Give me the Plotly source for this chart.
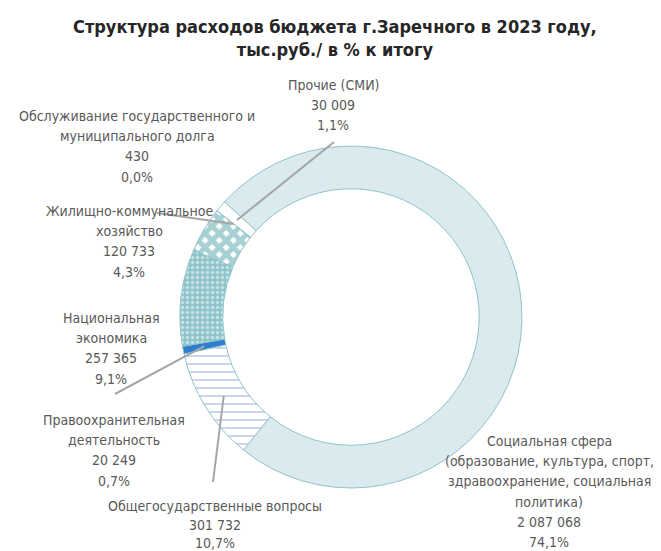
import math
import plotly.graph_objects as go

W, H = 661, 551

names = [
    "Социальная сфера<br>(образование, культура, спорт,<br>здравоохранение, социальная<br>политика)",
    "Общегосударственные вопросы",
    "Правоохранительная<br>деятельность",
    "Национальная<br>экономика",
    "Жилищно-коммунальное<br>хозяйство",
    "Обслуживание государственного и<br>муниципального долга",
    "Прочие (СМИ)",
]
values = [2087068, 301732, 20249, 257365, 120733, 430, 30009]

fills = ["#DAEAEE", "#FFFFFF", "#2E7DD1", "#8EC4CA", "#FFFFFF", "#FFFFFF", "#FFFFFF"]
pat_shapes = ["", "-", "", ".", "x", "", ""]
pat_fg = ["#DAEAEE", "#7F93D4", "#2E7DD1", "#FFFFFF", "#4FA2A8", "#FFFFFF", "#FFFFFF"]
pat_size = [8, 8, 8, 5, 10, 8, 8]
pat_sol = [0.2, 0.2, 0.2, 0.35, 0.75, 0.2, 0.2]

# pie geometry (pixels)
cx, cy, R = 351, 317, 171
hole = 0.75
rotation = 312.3

total = sum(values)

def fmt_num(v):
    return f"{v:,}".replace(",", " ")

def fmt_pct(v):
    return f"{v / total * 100:.1f}%".replace(".", ",")

font_family = "DejaVu Sans Condensed, Liberation Sans Narrow, Arial Narrow, sans-serif"

fig = go.Figure(go.Pie(
    values=values,
    labels=[n.replace("<br>", " ") for n in names],
    sort=False,
    direction="clockwise",
    rotation=rotation,
    hole=hole,
    textinfo="none",
    marker=dict(
        colors=fills,
        line=dict(color="#8FC3C9", width=1),
        pattern=dict(shape=pat_shapes, fgcolor=pat_fg, size=pat_size,
                     solidity=pat_sol, fillmode="overlay"),
    ),
    domain=dict(x=[(cx - R) / W, (cx + R) / W], y=[1 - (cy + R) / H, 1 - (cy - R) / H]),
    showlegend=False,
    hoverinfo="label+value+percent",
))

# label block positions: (center x px, first line center y px, line step px)
label_pos = [
    (549, 441, 20.2),
    (215, 506, 18.5),
    (114, 420, 20.2),
    (111, 318, 20.2),
    (129, 211, 20.2),
    (137, 116, 20.2),
    (333, 85, 20.2),
]

annotations = []
for name, v, (lx, ly, step) in zip(names, values, label_pos):
    lines = name.split("<br>") + [fmt_num(v), fmt_pct(v)]
    for j, line in enumerate(lines):
        annotations.append(dict(
            text=line,
            x=lx / W, y=1 - (ly + j * step) / H, xref="paper", yref="paper",
            xanchor="center", yanchor="middle", showarrow=False, align="center",
            font=dict(family=font_family, size=14, color="#595959"),
        ))

annotations.append(dict(
    text="<b>Структура расходов бюджета г.Заречного в 2023 году,<br>тыс.руб./ в % к итогу</b>",
    x=335 / W, y=1 - 14 / H, xref="paper", yref="paper",
    xanchor="center", yanchor="top", showarrow=False, align="center",
    font=dict(family=font_family, size=18, color="#262626"),
))

# leader lines: from label (px) to slice middle on the ring
leader_from = {1: (213, 482), 2: (115, 394), 5: (157, 213), 6: (334, 142)}
r_mid = R * (1 + hole) / 2
shapes = []
cum = 0
for i, v in enumerate(values):
    ang = math.radians(rotation + (cum + v / 2) / total * 360)
    cum += v
    if i in leader_from:
        tx = cx + r_mid * math.sin(ang)
        ty = cy - r_mid * math.cos(ang)
        fx, fy = leader_from[i]
        shapes.append(dict(type="line", xref="paper", yref="paper",
                           x0=fx / W, y0=1 - fy / H, x1=tx / W, y1=1 - ty / H,
                           line=dict(color="#A6A6A6", width=2)))

fig.update_layout(
    width=W, height=H, autosize=False,
    margin=dict(l=0, r=0, t=0, b=0),
    paper_bgcolor="white", plot_bgcolor="white",
    annotations=annotations, shapes=shapes,
)

fig.write_html("out.html", config={"displayModeBar": False},
               post_script="document.body.style.margin='0';")
